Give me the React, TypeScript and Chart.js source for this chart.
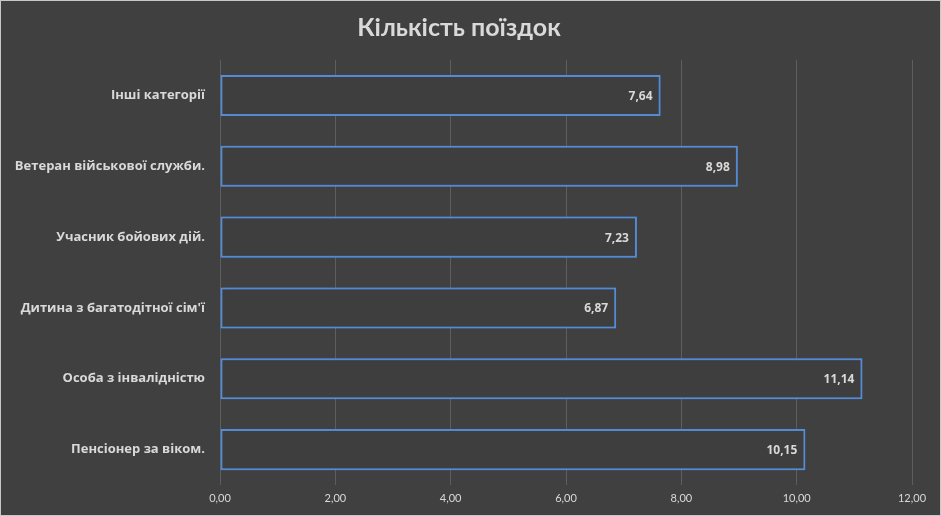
import React, { useEffect, useRef } from "react";
import { Chart, registerables } from "chart.js";

Chart.register(...registerables);

const categories = [
  "Інші категорії",
  "Ветеран військової служби.",
  "Учасник бойових дій.",
  "Дитина з багатодітної сім'ї",
  "Особа з інвалідністю",
  "Пенсіонер за віком.",
];
const values = [7.64, 8.98, 7.23, 6.87, 11.14, 10.15];
const chartTitle = "Кількість поїздок";

const fmt = (v: number) => v.toFixed(2).replace(".", ",");

const glowPlugin = {
  id: "glow",
  beforeDatasetsDraw(chart: any) {
    const ctx = chart.ctx;
    ctx.save();
    ctx.shadowColor = "rgba(70,130,210,0.85)";
    ctx.shadowBlur = 6;
  },
  afterDatasetsDraw(chart: any) {
    chart.ctx.restore();
    const ctx = chart.ctx;
    const meta = chart.getDatasetMeta(0);
    ctx.save();
    ctx.font = "bold 12px 'Open Sans', sans-serif";
    ctx.fillStyle = "#d9d9d9";
    ctx.textAlign = "right";
    ctx.textBaseline = "middle";
    meta.data.forEach((bar: any, i: number) => {
      ctx.fillText(fmt(values[i]), bar.x - 8, bar.y + 1);
    });
    ctx.restore();
  },
};

export default function App() {
  const ref = useRef<HTMLCanvasElement>(null);
  useEffect(() => {
    if (!ref.current) return;
    const chart = new Chart(ref.current, {
      type: "bar",
      data: {
        labels: categories,
        datasets: [
          {
            data: values,
            backgroundColor: "#3e3e3e",
            borderColor: "#5b8fd4",
            borderWidth: 2,
            borderSkipped: false,
            categoryPercentage: 1,
            barPercentage: 0.58,
          },
        ],
      },
      options: {
        indexAxis: "y",
        animation: false,
        responsive: false,
        maintainAspectRatio: false,
        layout: { padding: { left: 5, right: 28, top: 0, bottom: 0 } },
        plugins: {
          legend: { display: false },
          tooltip: { enabled: false },
          title: {
            display: true,
            text: chartTitle,
            color: "#d9d9d9",
            font: { family: "Lato, 'Open Sans', sans-serif", size: 25, weight: "bold" },
            padding: { top: 12, bottom: 17 },
          },
        },
        scales: {
          x: {
            min: 0,
            max: 12,
            ticks: {
              stepSize: 2,
              color: "#d9d9d9",
              font: { family: "Lato, 'Open Sans', sans-serif", size: 11 },
              padding: 7,
              callback: (v: any) => fmt(Number(v)),
              maxRotation: 0,
            },
            grid: { color: "rgba(255,255,255,0.16)", drawTicks: false },
            border: { display: false },
            afterFit: (s: any) => {
              s.height = 30;
            },
          },
          y: {
            ticks: {
              color: "#d9d9d9",
              font: { family: "'Open Sans', sans-serif", size: 13, weight: "bold" },
              padding: 15,
            },
            grid: { display: false, drawTicks: false },
            border: { display: false },
            afterFit: (s: any) => {
              s.width = 214;
            },
          },
        },
      },
      plugins: [glowPlugin],
    });
    return () => chart.destroy();
  }, []);
  return (
    <div
      style={{
        position: "fixed",
        left: 0,
        top: 0,
        width: 941,
        height: 516,
        boxSizing: "border-box",
        border: "1px solid #c8c8c8",
        background: "#404040",
      }}
    >
      <canvas ref={ref} width={939} height={514} style={{ display: "block" }} />
    </div>
  );
}
